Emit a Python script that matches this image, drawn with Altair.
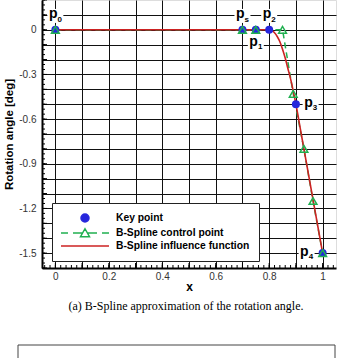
import altair as alt
import pandas as pd

# Key points of the rotation law
key_x = [0.0, 0.70, 0.75, 0.80, 0.90, 1.00]
key_y = [0.0, 0.0, 0.0, 0.0, -0.5, -1.5]
key_sub = ["0", "s", "1", "2", "3", "4"]
key_lab_x = [0.0, 0.70, 0.75, 0.80, 0.955, 0.94]
key_lab_y = [0.093, 0.093, -0.089, 0.093, -0.5, -1.5]

# B-spline control polygon
ctrl_x = [0.0, 0.70, 0.75, 0.85, 0.89, 0.93, 0.964, 1.00]
ctrl_y = [0.0, 0.0, 0.0, 0.0, -0.43, -0.80, -1.15, -1.50]

# Influence function evaluated from the spline
curve_x = [0.0, 0.70, 0.80, 0.81, 0.82, 0.83, 0.84, 0.85, 0.86, 0.87, 0.88,
           0.90, 0.92, 0.94, 0.96, 0.98, 1.00]
curve_y = [0.0, 0.0, 0.0, -0.005, -0.02, -0.045, -0.08, -0.13, -0.19, -0.26,
           -0.33, -0.50, -0.70, -0.90, -1.10, -1.30, -1.50]

# Axis grid, label and tick positions
x_grid = [0.0, 0.1, 0.2, 0.3, 0.4, 0.5, 0.6, 0.7, 0.8, 0.9, 1.0]
x_labels = [0.0, 0.2, 0.4, 0.6, 0.8, 1.0]
y_grid = [0.1, 0.0, -0.1, -0.2, -0.3, -0.4, -0.5, -0.6, -0.7, -0.8, -0.9,
          -1.0, -1.1, -1.2, -1.3, -1.4, -1.5]
y_labels = [0.0, -0.3, -0.6, -0.9, -1.2, -1.5]
x_major = [round(0.1 * i, 2) for i in range(11)]
x_minor = [round(-0.04 + 0.02 * i, 2) for i in range(55)]
y_major = [round(0.2 - 0.1 * i, 2) for i in range(19)]
y_minor = [round(0.2 - 0.1 * i / 3, 4) for i in range(55)]

# Legend entries and caption
series = ["Key point", "B-Spline control point", "B-Spline influence function"]
caption = "(a) B-Spline approximation of the rotation angle."

BLUE = "#2626dc"
GREEN = "#20b050"
RED = "#cc2222"
FONT = "Liberation Sans"

W, H = 294, 268
x_scale = alt.Scale(domain=[-0.05, 1.05], nice=False, zero=False)
y_scale = alt.Scale(domain=[-1.6, 0.2], nice=False, zero=False)

x_lab_codes = [int(round(v * 10)) for v in x_labels]
y_lab_codes = [int(round(v * 10)) for v in y_labels]

x_axis = alt.Axis(
    values=x_grid, grid=True, gridColor="#111", gridWidth=1, ticks=False,
    domainColor="#000", domainWidth=2, labelFlush=False,
    labelExpr=f"indexof({x_lab_codes}, round(datum.value*10)) >= 0 ? format(datum.value, '~g') : ''",
    labelFont=FONT, labelFontSize=10, labelColor="#333", labelPadding=3,
    title="x", titleFont=FONT, titleFontSize=12, titleFontWeight="bold",
    titleColor="#000", titlePadding=0,
)
y_axis = alt.Axis(
    values=y_grid, grid=True, gridColor="#111", gridWidth=1, ticks=False,
    domainColor="#000", domainWidth=2, labelFlush=False,
    labelExpr=f"indexof({y_lab_codes}, round(datum.value*10)) >= 0 ? (datum.value < 0 ? '-' : '') + format(abs(datum.value), '~g') : ''",
    labelFont=FONT, labelFontSize=10, labelColor="#333", labelPadding=6,
    title="Rotation angle [deg]", titleFont=FONT, titleFontSize=11.5,
    titleFontWeight="bold", titleColor="#000", titlePadding=4,
)

X = alt.X("x:Q", scale=x_scale, axis=x_axis)
Y = alt.Y("y:Q", scale=y_scale, axis=y_axis)

curve_df = pd.DataFrame({"x": curve_x, "y": curve_y})
ctrl_df = pd.DataFrame({"x": ctrl_x, "y": ctrl_y})
key_df = pd.DataFrame({"x": key_x, "y": key_y})
lab_df = pd.DataFrame({"x": key_lab_x, "y": key_lab_y, "sub": key_sub})

# Inward tick marks along the bottom and left axes
xt_major = alt.Chart(pd.DataFrame({"x": x_major})).mark_rule(color="#000", strokeWidth=1).encode(
    x=X, y=alt.value(H), y2=alt.value(H - 5))
xt_minor = alt.Chart(pd.DataFrame({"x": x_minor})).mark_rule(color="#000", strokeWidth=1).encode(
    x=X, y=alt.value(H), y2=alt.value(H - 3))
yt_major = alt.Chart(pd.DataFrame({"y": y_major})).mark_rule(color="#000", strokeWidth=1).encode(
    y=Y, x=alt.value(0), x2=alt.value(5))
yt_minor = alt.Chart(pd.DataFrame({"y": y_minor})).mark_rule(color="#000", strokeWidth=1).encode(
    y=Y, x=alt.value(0), x2=alt.value(3))

ctrl_line = alt.Chart(ctrl_df).mark_line(
    color=GREEN, strokeWidth=1.5, strokeDash=[6, 4]).encode(x=X, y=Y)
curve = alt.Chart(curve_df).mark_line(
    color=RED, strokeWidth=1.6, interpolate="monotone").encode(x=X, y=Y)
key_pts = alt.Chart(key_df).mark_point(
    shape="circle", filled=True, color=BLUE, size=64, opacity=1).encode(x=X, y=Y)
ctrl_pts = alt.Chart(ctrl_df).mark_point(
    shape="triangle-up", filled=False, color=GREEN, size=60, strokeWidth=1.5,
    opacity=1).encode(x=X, y=Y)

# Point labels: white box, letter p and its subscript
lab_box = alt.Chart(lab_df).mark_point(
    shape="M-1.6,-1.4H1.6V1.4H-1.6Z", size=100, filled=True, fill="white",
    strokeWidth=0, opacity=1).encode(x=X, y=Y)
lab_p = alt.Chart(lab_df).mark_text(
    text="p", font=FONT, fontSize=14, fontWeight="bold", color="#000",
    align="center", baseline="alphabetic", dx=-2.2, dy=2.5).encode(x=X, y=Y)
lab_sub = alt.Chart(lab_df).mark_text(
    font=FONT, fontSize=8, fontWeight="bold", color="#000",
    align="center", baseline="alphabetic", dx=4.3, dy=6).encode(x=X, y=Y, text="sub:N")

# Legend symbols (paths in units of 5 px)
sym_key = "M-0.8,0A0.8,0.8,0,1,1,0.8,0A0.8,0.8,0,1,1,-0.8,0Z"
sym_ctrl = ("M-4.8,0H-3.4M-2.4,0H-0.5M0.5,0H2.4M3.4,0H4.8"
            "M0,-0.85L0.9,0.75L-0.9,0.75Z")
sym_curve = "M-4.8,0H4.8"

legend = alt.Legend(
    orient="none", legendX=10, legendY=203, title=None, padding=9,
    fillColor="white", strokeColor="#222", rowPadding=0,
    labelFont=FONT, labelFontSize=10.3, labelFontWeight="bold", labelColor="#000",
    symbolOpacity=1, symbolStrokeWidth=1.5, symbolSize=100,
    symbolOffset=18, labelOffset=25,
)
legend_layer = alt.Chart(pd.DataFrame({"series": series})).mark_point(
    size=100, opacity=0).encode(
    x=alt.value(0), y=alt.value(0),
    shape=alt.Shape("series:N", scale=alt.Scale(domain=series, range=[sym_key, sym_ctrl, sym_curve]), legend=legend),
    fill=alt.Fill("series:N", scale=alt.Scale(domain=series, range=[BLUE, "transparent", "transparent"]), legend=legend),
    stroke=alt.Stroke("series:N", scale=alt.Scale(domain=series, range=[BLUE, GREEN, RED]), legend=legend),
)

# Caption below the panel
cap = alt.Chart(pd.DataFrame({"t": [caption]})).mark_text(
    font="Liberation Serif", fontSize=12, color="#000", align="center",
    baseline="alphabetic").encode(x=alt.value(144), y=alt.value(310), text="t:N")

# Frame of the following panel
frame = alt.Chart(pd.DataFrame({"k": [0]})).mark_rect(
    fill="transparent", stroke="#444", strokeWidth=1).encode(
    x=alt.value(-24), x2=alt.value(293), y=alt.value(345), y2=alt.value(420))

chart = alt.layer(
    xt_minor, xt_major, yt_minor, yt_major,
    ctrl_line, curve, key_pts, ctrl_pts,
    lab_box, lab_p, lab_sub, legend_layer, cap, frame,
).properties(
    width=W, height=H,
    padding={"left": 42, "top": 0, "right": 2, "bottom": 90},
    autosize=alt.AutoSizeParams(type="none"),
).configure_view(stroke="#000", strokeWidth=1).configure(background="white")

chart.save("out.html", embed_options={"renderer": "svg", "actions": False})
